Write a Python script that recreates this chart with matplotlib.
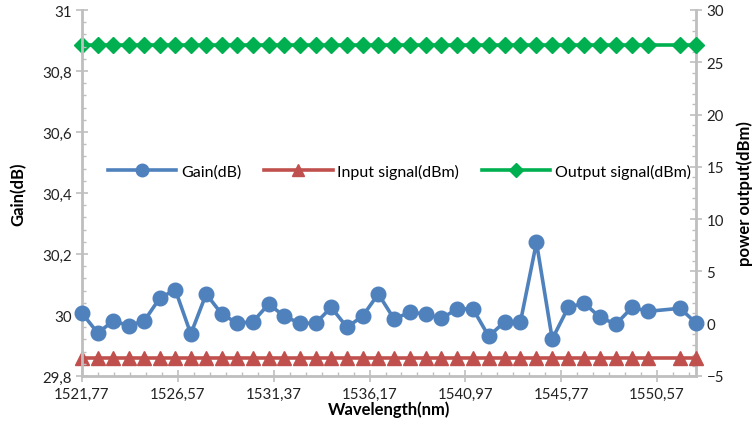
import numpy as np
import matplotlib
matplotlib.use('Agg')
import matplotlib.pyplot as plt
from matplotlib.ticker import FuncFormatter, MultipleLocator, FixedLocator
from matplotlib.lines import Line2D

plt.rcParams['font.family'] = ['Lato', 'DejaVu Sans']

# ITU 100 GHz channels, 197.0 THz down to 193.1 THz (193.3 THz missing)
wavelength = [1521.77, 1522.56, 1523.34, 1524.11, 1524.89, 1525.66, 1526.44,
              1527.22, 1527.99, 1528.77, 1529.55, 1530.33, 1531.12, 1531.90,
              1532.68, 1533.47, 1534.25, 1535.04, 1535.82, 1536.61, 1537.40,
              1538.19, 1538.98, 1539.77, 1540.56, 1541.35, 1542.14, 1542.94,
              1543.73, 1544.53, 1545.32, 1546.12, 1546.92, 1547.72, 1548.51,
              1549.32, 1550.12, 1551.72, 1552.52]

gain_db = [30.006, 29.941, 29.981, 29.965, 29.981, 30.055, 30.083, 29.938,
           30.069, 30.003, 29.973, 29.978, 30.036, 29.996, 29.973, 29.973,
           30.025, 29.960, 29.996, 30.069, 29.987, 30.009, 30.003, 29.989,
           30.020, 30.020, 29.930, 29.978, 29.978, 30.238, 29.921, 30.025,
           30.039, 29.992, 29.970, 30.025, 30.012, 30.022, 29.974]

input_dbm = [-3.3] * len(wavelength)
output_dbm = [26.7] * len(wavelength)

blue = '#4F81BD'
red = '#C0504D'
green = '#00B050'
axis_grey = '#BFBFBF'

fig = plt.figure(figsize=(7.54, 4.27), dpi=100)
fig.subplots_adjust(left=82/754, right=696/754, top=1-11/427, bottom=1-377/427)
ax = fig.add_subplot(111)
ax2 = ax.twinx()
# left axes (gain) drawn above the right one so end markers sit over the spine
ax.set_zorder(ax2.get_zorder() + 1)
ax.patch.set_visible(False)

ax.plot(wavelength, gain_db, color=blue, lw=2.6, marker='o', ms=10.5,
        mec=blue, mfc=blue, zorder=3, clip_on=False)
ax2.plot(wavelength, input_dbm, color=red, lw=2.6, marker='^', ms=9.5,
         mec=red, mfc=red, zorder=3, clip_on=False)
ax2.plot(wavelength, output_dbm, color=green, lw=2.6, marker='D', ms=8.2,
         mec=green, mfc=green, zorder=3, clip_on=False)

ax.set_xlim(1521.77, 1552.52)
ax.set_ylim(29.8, 31)
ax2.set_ylim(-5, 30)

# decimal comma labels
comma = FuncFormatter(lambda v, p: ('%g' % round(v, 2)).replace('.', ','))
ax.xaxis.set_major_locator(FixedLocator(np.arange(1521.77, 1552.6, 4.8)))
ax.xaxis.set_minor_locator(FixedLocator(np.arange(1521.77, 1552.6, 0.8)))
ax.xaxis.set_major_formatter(comma)
ax.yaxis.set_major_locator(MultipleLocator(0.2))
ax.yaxis.set_minor_locator(MultipleLocator(0.04))
ax.yaxis.set_major_formatter(comma)
ax2.yaxis.set_major_locator(MultipleLocator(5))
ax2.yaxis.set_minor_locator(MultipleLocator(1))

for a in (ax, ax2):
    for s in a.spines.values():
        s.set_visible(False)
    a.tick_params(which='major', direction='inout', length=8, width=1.2,
                  color=axis_grey, labelsize=10.8, labelcolor='#222222')
    a.tick_params(which='minor', direction='in', length=3, width=1,
                  color=axis_grey)
ax.spines['left'].set_visible(True)
ax.spines['bottom'].set_visible(True)
ax2.spines['right'].set_visible(True)
for s in (ax.spines['left'], ax.spines['bottom'], ax2.spines['right']):
    s.set_color(axis_grey)
    s.set_linewidth(2)

ax.set_xlabel('Wavelength(nm)', fontsize=12, fontweight='bold', labelpad=0)
ax.set_ylabel('Gain(dB)', fontsize=12, fontweight='bold', labelpad=11)
ax2.set_ylabel('power output(dBm)', fontsize=12, fontweight='bold', labelpad=9)

handles = [
    Line2D([], [], color=blue, lw=2.6, marker='o', ms=9),
    Line2D([], [], color=red, lw=2.6, marker='^', ms=9),
    Line2D([], [], color=green, lw=2.6, marker='D', ms=7.5),
]
labels = ['Gain(dB)', 'Input signal(dBm)', 'Output signal(dBm)']
ax.legend(handles, labels, loc='center', bbox_to_anchor=(0.517, 0.56),
          ncol=3, frameon=False, fontsize=11.5, handlelength=4.3,
          columnspacing=1.4, handletextpad=0.3)

fig.savefig('out.png', dpi=100)
